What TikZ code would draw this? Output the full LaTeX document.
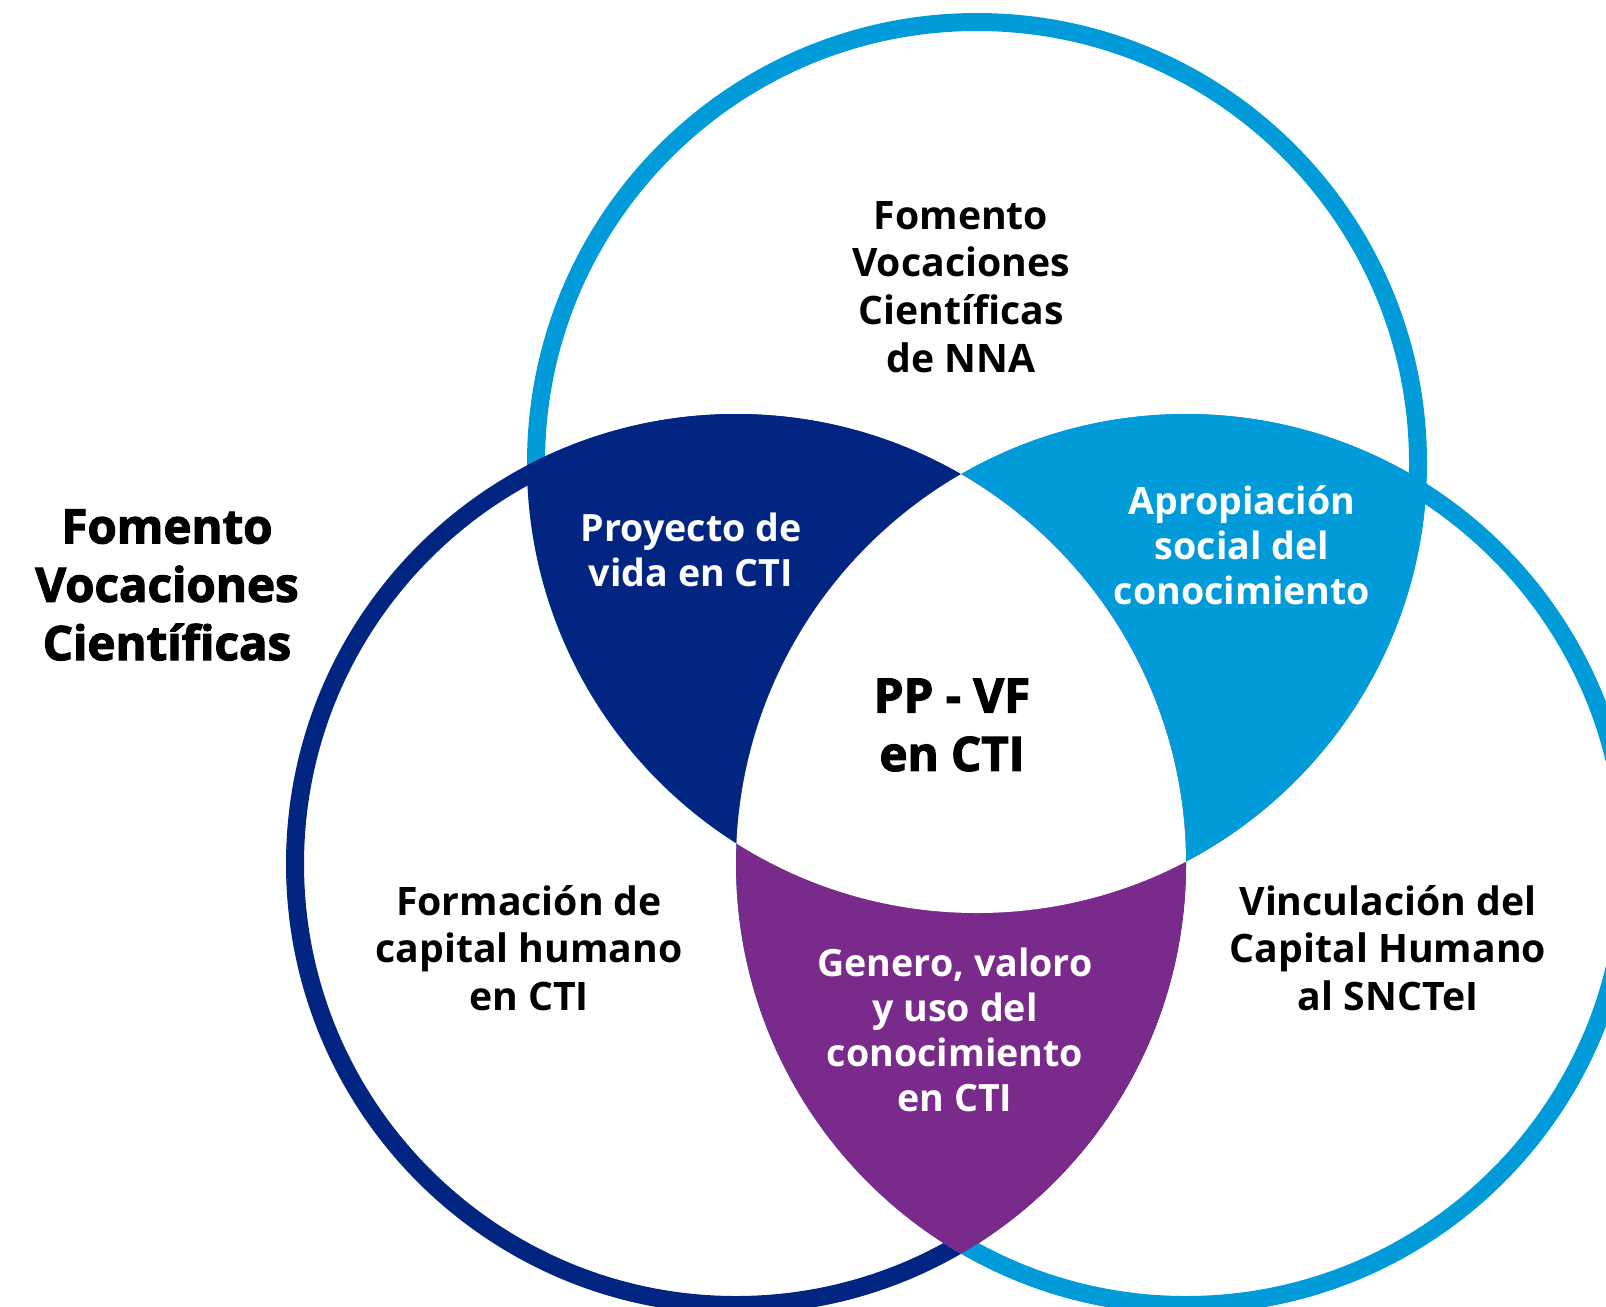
\documentclass[tikz,border=0pt]{standalone}
\usepackage{fontspec}
\setmainfont{Open Sans}
\newfontfamily\gruesa{Open Sans}[BoldFeatures={FakeBold=2.5}]
\usepackage{xcolor}
\usepackage{tikz}

\definecolor{marino}{HTML}{022582}
\definecolor{cielo}{HTML}{009BD8}
\definecolor{morado}{HTML}{7A2A8A}

\tikzset{
	ring/.style={line width=3.6mm},
	negro/.style={align=center, inner sep=0pt, font=\bfseries\fontsize{22.3}{27.2}\selectfont},
	blanco/.style={negro, text=white, font=\bfseries\fontsize{21.4}{25.5}\selectfont},
	grande/.style={negro, font=\gruesa\bfseries\fontsize{27}{33.2}\selectfont}
}

\begin{document}
\begin{tikzpicture}[x=0.2mm, y=-0.2mm]
	\useasboundingbox (0,0) rectangle (1606,1306);
	\clip (0,0) rectangle (1606,1306);
	\coordinate (ctop) at (977,463);
	\coordinate (cleft) at (736,864);
	\coordinate (cright) at (1186,864);
	\foreach \c/\col in {ctop/cielo,cleft/marino,cright/cielo}
		\draw[ring,\col] (\c) circle[radius=441];
	% lenses, then the common part in white
	\foreach \a/\b/\col in {ctop/cleft/marino,ctop/cright/cielo,cleft/cright/morado}
	{
		\begin{scope}
			\clip (\a) circle[radius=450];
			\clip (\b) circle[radius=450];
			\fill[\col] (0,0) rectangle (1606,1306);
		\end{scope}
	}
	\begin{scope}
		\clip (ctop) circle[radius=450];
		\clip (cleft) circle[radius=450];
		\clip (cright) circle[radius=450];
		\fill[white] (0,0) rectangle (1606,1306);
	\end{scope}
	\node[negro] (nna) at (961,287) {Fomento\\Vocaciones\\Científicas\\de NNA};
	\node[grande] (fvc) at (167,585) {Fomento\\Vocaciones\\Científicas};
	\node[blanco] (proy) at (691,550) {Proyecto de\\vida en CTI};
	\node[blanco] (apro) at (1242,545) {Apropiación\\social del\\conocimiento};
	\node[grande] (ppvf) at (952,725) {PP - VF\\en CTI};
	\node[blanco] (gen) at (955,1030) {Genero, valoro\\y uso del\\conocimiento\\en CTI};
	\node[negro] (form) at (529,948) {Formación de\\capital humano\\en CTI};
	\node[negro] (vinc) at (1388,948) {Vinculación del\\Capital Humano\\al SNCTeI};
\end{tikzpicture}
\end{document}
